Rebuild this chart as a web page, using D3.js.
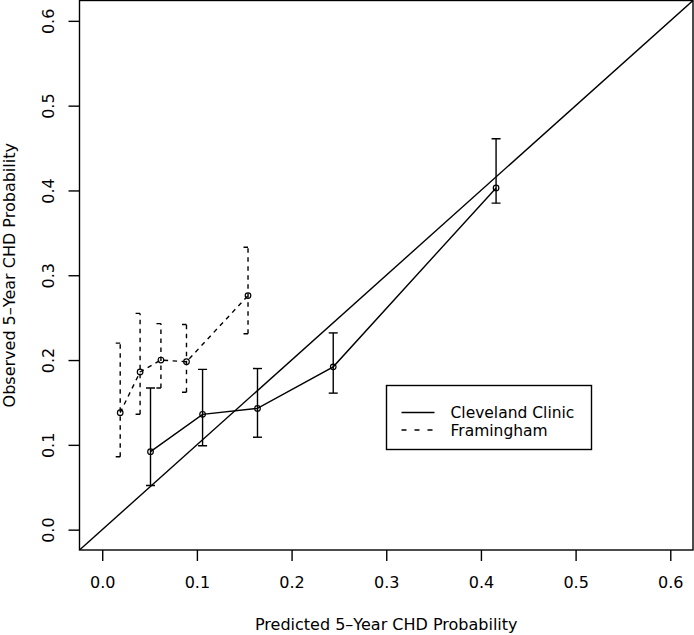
<!DOCTYPE html>
<html>
<head>
<meta charset="utf-8">
<script src="https://cdn.jsdelivr.net/npm/d3@7"></script>
<style>
  html, body { margin: 0; padding: 0; background: #fff; }
  svg { display: block; }
  text { font-family: "DejaVu Sans", Verdana, sans-serif; fill: #000; }
</style>
</head>
<body>
<svg id="chart" width="694" height="635"></svg>
<script>
// ---- data ----
const xTicks = [0.0, 0.1, 0.2, 0.3, 0.4, 0.5, 0.6];
const yTicks = [0.0, 0.1, 0.2, 0.3, 0.4, 0.5, 0.6];
const seriesNames = ["Cleveland Clinic", "Framingham"];

const ccPred = [0.051, 0.106, 0.164, 0.244, 0.416];
const ccObs  = [0.092, 0.136, 0.143, 0.192, 0.403];
const ccLow  = [0.052, 0.099, 0.109, 0.161, 0.385];
const ccHigh = [0.167, 0.189, 0.190, 0.232, 0.461];

const fPred = [0.019, 0.040, 0.062, 0.089, 0.154];
const fObs  = [0.138, 0.186, 0.200, 0.198, 0.276];
const fLow  = [0.086, 0.136, 0.167, 0.162, 0.231];
const fHigh = [0.220, 0.255, 0.243, 0.242, 0.333];

const xTitle = "Predicted 5\u2013Year CHD Probability";
const yTitle = "Observed 5\u2013Year CHD Probability";

// ---- layout ----
const svg = d3.select("#chart");
const pLeft = 79.5, pRight = 693, pTop = 0.5, pBottom = 550;
const domain = [-0.024, 0.624];
const x = d3.scaleLinear().domain(domain).range([pLeft, pRight]);
const y = d3.scaleLinear().domain(domain).range([pBottom, pTop]);

const lw = 1.4;

svg.append("clipPath").attr("id", "plotclip")
  .append("rect").attr("x", pLeft).attr("y", pTop).attr("width", pRight - pLeft).attr("height", pBottom - pTop);

// axes
const xAxis = d3.axisBottom(x).tickValues(xTicks).tickFormat(d3.format(".1f")).tickSize(11).tickSizeOuter(0);
const gx = svg.append("g").attr("transform", `translate(0,${pBottom})`).call(xAxis);
gx.attr("font-family", null).attr("font-size", null);
gx.select(".domain").remove();
gx.selectAll(".tick line").attr("stroke", "#000").attr("stroke-width", lw);
gx.selectAll(".tick text").attr("y", 26).attr("dy", "0.72em").style("font-size", "16px");

const yAxis = d3.axisLeft(y).tickValues(yTicks).tickFormat(d3.format(".1f")).tickSize(11).tickSizeOuter(0);
const gy = svg.append("g").attr("transform", `translate(${pLeft},0)`).call(yAxis);
gy.attr("font-family", null).attr("font-size", null);
gy.select(".domain").remove();
gy.selectAll(".tick line").attr("stroke", "#000").attr("stroke-width", lw);
gy.selectAll(".tick text")
  .attr("x", null)
  .attr("text-anchor", "middle")
  .attr("transform", "translate(-31.5,0) rotate(-90)")
  .attr("dy", "0.36em")
  .style("font-size", "16px");

// axis titles
svg.append("text").attr("x", (pLeft + pRight) / 2).attr("y", 630)
  .attr("text-anchor", "middle").style("font-size", "16px").text(xTitle);
svg.append("text")
  .attr("transform", `translate(15,${(pTop + pBottom) / 2}) rotate(-90)`)
  .attr("text-anchor", "middle").style("font-size", "16px").text(yTitle);

const plot = svg.append("g").attr("clip-path", "url(#plotclip)");

// diagonal reference line
plot.append("line")
  .attr("x1", x(domain[0])).attr("y1", y(domain[0]))
  .attr("x2", x(domain[1])).attr("y2", y(domain[1]))
  .attr("stroke", "#000").attr("stroke-width", lw);

function drawSeries(pred, obs, low, high, dash) {
  const pts = pred.map((p, i) => ({ x: p, y: obs[i], lo: low[i], hi: high[i] }));
  const g = plot.append("g");
  g.append("path")
    .attr("d", d3.line().x(d => x(d.x)).y(d => y(d.y))(pts))
    .attr("fill", "none").attr("stroke", "#000").attr("stroke-width", lw)
    .attr("stroke-dasharray", dash);
  const cap = 4.5;
  pts.forEach(d => {
    g.append("line")
      .attr("x1", x(d.x)).attr("x2", x(d.x)).attr("y1", y(d.lo)).attr("y2", y(d.hi))
      .attr("stroke", "#000").attr("stroke-width", lw).attr("stroke-dasharray", dash);
    [d.lo, d.hi].forEach(v => {
      g.append("line")
        .attr("x1", x(d.x) - cap).attr("x2", x(d.x) + cap).attr("y1", y(v)).attr("y2", y(v))
        .attr("stroke", "#000").attr("stroke-width", lw).attr("stroke-dasharray", dash);
    });
  });
  g.selectAll("circle.pt").data(pts).enter().append("circle")
    .attr("class", "pt")
    .attr("cx", d => x(d.x)).attr("cy", d => y(d.y)).attr("r", 2.8)
    .attr("fill", "none").attr("stroke", "#000").attr("stroke-width", 1.2);
}

drawSeries(ccPred, ccObs, ccLow, ccHigh, null);
drawSeries(fPred, fObs, fLow, fHigh, "4.5,4.5");

// plot box
svg.append("rect").attr("x", pLeft).attr("y", pTop).attr("width", pRight - pLeft).attr("height", pBottom - pTop)
  .attr("fill", "none").attr("stroke", "#000").attr("stroke-width", lw);

// legend
const lg = svg.append("g");
lg.append("rect").attr("x", 386.5).attr("y", 385.5).attr("width", 205).attr("height", 64)
  .attr("fill", "#fff").attr("stroke", "#000").attr("stroke-width", lw);
const legDash = [null, "5,8"];
seriesNames.forEach((name, i) => {
  const yy = 412.5 + i * 17.5;
  lg.append("line").attr("x1", 401.5).attr("x2", 434.5).attr("y1", yy).attr("y2", yy)
    .attr("stroke", "#000").attr("stroke-width", lw).attr("stroke-dasharray", legDash[i]);
  lg.append("text").attr("x", 450.5).attr("y", yy).attr("dy", "0.36em")
    .style("font-size", "15.5px").text(name);
});
</script>
</body>
</html>
